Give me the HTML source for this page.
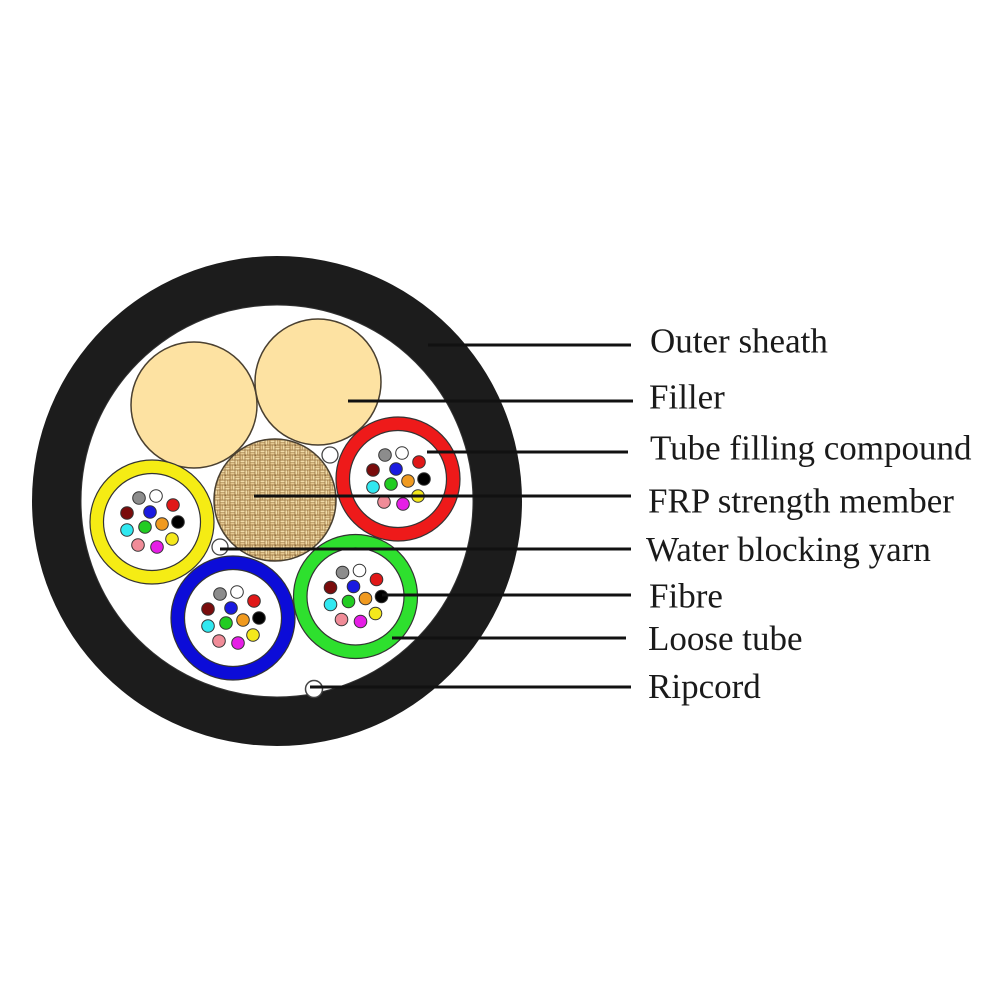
<!DOCTYPE html>
<html>
<head>
<meta charset="utf-8">
<style>
  html, body { margin: 0; padding: 0; background: #ffffff; }
  svg { display: block; }
  text { font-family: "Liberation Serif", "Times New Roman", serif; font-size: 35px; fill: #1a1a1a; }
</style>
</head>
<body>
<svg width="1000" height="1000" viewBox="0 0 1000 1000" xmlns="http://www.w3.org/2000/svg">
  <defs>
    <pattern id="weave" x="0" y="0" width="10" height="10" patternUnits="userSpaceOnUse">
      <rect width="10" height="10" fill="#9c7641"/>
      <rect x="0.4" y="0.5" width="4.2" height="1.8" fill="#f0dcaa"/>
      <rect x="0.4" y="2.8" width="4.2" height="1.8" fill="#e2c690"/>
      <rect x="5.4" y="0.4" width="1.8" height="4.2" fill="#f0dcaa"/>
      <rect x="7.7" y="0.4" width="1.8" height="4.2" fill="#e2c690"/>
      <rect x="0.5" y="5.4" width="1.8" height="4.2" fill="#e2c690"/>
      <rect x="2.8" y="5.4" width="1.8" height="4.2" fill="#f0dcaa"/>
      <rect x="5.4" y="5.5" width="4.2" height="1.8" fill="#e2c690"/>
      <rect x="5.4" y="7.8" width="4.2" height="1.8" fill="#f0dcaa"/>
      <rect x="4.7" y="4.7" width="1" height="1" fill="#5a3c1c"/>
      <rect x="9.6" y="9.6" width="0.4" height="0.4" fill="#5a3c1c"/>
    </pattern>
    <g id="fibres" stroke="#333" stroke-width="1">
      <circle cx="-13" cy="-24" r="6.3" fill="#8c8c8c"/>
      <circle cx="4" cy="-26" r="6.3" fill="#ffffff"/>
      <circle cx="21" cy="-17" r="6.3" fill="#e01818"/>
      <circle cx="-25" cy="-9" r="6.3" fill="#7a0c0c"/>
      <circle cx="-2" cy="-10" r="6.3" fill="#1a1ae0"/>
      <circle cx="26" cy="0" r="6.3" fill="#000000"/>
      <circle cx="-25" cy="8" r="6.3" fill="#30e8f0"/>
      <circle cx="-7" cy="5" r="6.3" fill="#22cc22"/>
      <circle cx="10" cy="2" r="6.3" fill="#f09a20"/>
      <circle cx="20" cy="17" r="6.3" fill="#f4e81c"/>
      <circle cx="-14" cy="23" r="6.3" fill="#f08c98"/>
      <circle cx="5" cy="25" r="6.3" fill="#e61ee6"/>
    </g>
  </defs>

  <!-- Outer sheath -->
  <circle cx="277" cy="501" r="245" fill="#1c1c1c"/>
  <circle cx="277" cy="501" r="196" fill="#ffffff" stroke="#333" stroke-width="1"/>

  <!-- Fillers -->
  <circle cx="194" cy="405" r="63" fill="#fde2a2" stroke="#4a4030" stroke-width="1.5"/>
  <circle cx="318" cy="382" r="63" fill="#fde2a2" stroke="#4a4030" stroke-width="1.5"/>

  <!-- FRP strength member -->
  <circle cx="275" cy="500" r="61" fill="url(#weave)" stroke="#4a4030" stroke-width="1.5"/>

  <!-- Loose tubes -->
  <g>
    <circle cx="398" cy="479" r="55.25" fill="#ffffff" stroke="#ee1a1a" stroke-width="13.5"/>
    <circle cx="398" cy="479" r="62" fill="none" stroke="#333" stroke-width="1.2"/>
    <circle cx="398" cy="479" r="48.5" fill="none" stroke="#333" stroke-width="1.2"/>
    <use href="#fibres" transform="translate(398,479)"/>
  </g>
  <g>
    <circle cx="152" cy="522" r="55.25" fill="#ffffff" stroke="#f5ec14" stroke-width="13.5"/>
    <circle cx="152" cy="522" r="62" fill="none" stroke="#333" stroke-width="1.2"/>
    <circle cx="152" cy="522" r="48.5" fill="none" stroke="#333" stroke-width="1.2"/>
    <use href="#fibres" transform="translate(152,522)"/>
  </g>
  <g>
    <circle cx="233" cy="618" r="55.25" fill="#ffffff" stroke="#0c0cd8" stroke-width="13.5"/>
    <circle cx="233" cy="618" r="62" fill="none" stroke="#333" stroke-width="1.2"/>
    <circle cx="233" cy="618" r="48.5" fill="none" stroke="#333" stroke-width="1.2"/>
    <use href="#fibres" transform="translate(233,618)"/>
  </g>
  <g>
    <circle cx="355.5" cy="596.5" r="55.25" fill="#ffffff" stroke="#2ee02e" stroke-width="13.5"/>
    <circle cx="355.5" cy="596.5" r="62" fill="none" stroke="#333" stroke-width="1.2"/>
    <circle cx="355.5" cy="596.5" r="48.5" fill="none" stroke="#333" stroke-width="1.2"/>
    <use href="#fibres" transform="translate(355.5,596.5)"/>
  </g>

  <!-- Water blocking yarns -->
  <circle cx="330" cy="455" r="8" fill="#ffffff" stroke="#444" stroke-width="1.3"/>
  <circle cx="220" cy="547" r="8" fill="#ffffff" stroke="#444" stroke-width="1.3"/>

  <!-- Ripcord -->
  <circle cx="314" cy="689" r="8.5" fill="#ffffff" stroke="#444" stroke-width="1.5"/>

  <!-- Leader lines -->
  <g stroke="#111" stroke-width="3" stroke-linecap="butt">
    <line x1="428" y1="345" x2="631" y2="345"/>
    <line x1="348" y1="401" x2="633" y2="401"/>
    <line x1="427" y1="452" x2="628" y2="452"/>
    <line x1="254" y1="496" x2="631" y2="496"/>
    <line x1="220" y1="549" x2="631" y2="549"/>
    <line x1="382" y1="595" x2="631" y2="595"/>
    <line x1="392" y1="638" x2="626" y2="638"/>
    <line x1="310" y1="687" x2="631" y2="687"/>
  </g>

  <!-- Labels -->
  <text x="650" y="352.5">Outer sheath</text>
  <text x="649" y="408.5">Filler</text>
  <text x="650" y="459.5">Tube filling compound</text>
  <text x="648" y="512.5">FRP strength member</text>
  <text x="646" y="561">Water blocking yarn</text>
  <text x="649" y="607.5">Fibre</text>
  <text x="648" y="650">Loose tube</text>
  <text x="648" y="698">Ripcord</text>
</svg>
</body>
</html>
